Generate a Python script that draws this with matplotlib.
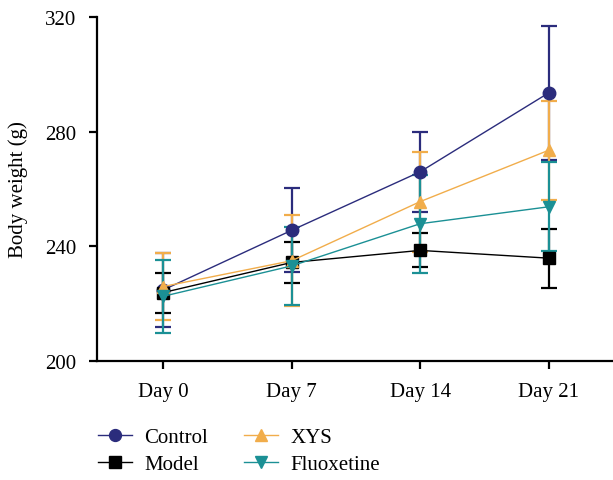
import numpy as np
import matplotlib
matplotlib.use('Agg')
import matplotlib.pyplot as plt

plt.rcParams['font.family'] = ['Liberation Serif', 'DejaVu Serif']

days = ['Day 0', 'Day 7', 'Day 14', 'Day 21']

control_mean = [224.8, 245.6, 266.0, 293.5]
control_sd = [13.0, 14.6, 13.9, 23.4]
model_mean = [223.9, 234.4, 238.6, 235.9]
model_sd = [7.0, 7.0, 5.9, 10.3]
xys_mean = [226.0, 235.0, 255.6, 273.5]
xys_sd = [11.8, 15.8, 17.4, 17.2]
fluox_mean = [222.6, 233.2, 247.9, 253.8]
fluox_sd = [12.7, 13.7, 17.0, 15.5]

series = [
    ('Control', control_mean, control_sd, '#2b2c7c', 'o'),
    ('Model', model_mean, model_sd, '#000000', 's'),
    ('XYS', xys_mean, xys_sd, '#f1ad4b', '^'),
    ('Fluoxetine', fluox_mean, fluox_sd, '#1b9095', 'v'),
]

fig = plt.figure(figsize=(6.13, 4.81), dpi=100)
ax = fig.add_axes([0.158, 0.247, 0.842, 0.716])

x = np.arange(len(days))
handles = []
for name, mean, sd, color, marker in series:
    ax.errorbar(x, mean, yerr=sd, fmt='none', ecolor=color, elinewidth=1.6,
                capsize=6, capthick=1.6, zorder=3)
    line, = ax.plot(x, mean, color=color, marker=marker, markersize=9,
                    linewidth=1.0, label=name, zorder=4)
    handles.append(line)

ax.set_xlim(-0.515, 3.5)
ax.set_ylim(200, 320)
ax.set_yticks([200, 240, 280, 320])
ax.set_xticks(x)
ax.set_xticklabels(days)
ax.set_ylabel('Body weight (g)', fontsize=15, labelpad=12)
ax.tick_params(axis='both', labelsize=15, width=1.6, length=6, direction='out')
ax.tick_params(axis='x', pad=9)
ax.tick_params(axis='y', pad=9)
ax.spines['top'].set_visible(False)
ax.spines['right'].set_visible(False)
ax.spines['left'].set_linewidth(1.6)
ax.spines['bottom'].set_linewidth(1.6)

fig.legend(handles=handles, ncol=2, loc='upper left', bbox_to_anchor=(0.13, 0.148),
           frameon=False, fontsize=15, handlelength=1.6, columnspacing=1.75,
           labelspacing=0.35, handletextpad=0.6, markerscale=0.95)

fig.savefig('out.png', dpi=100)
